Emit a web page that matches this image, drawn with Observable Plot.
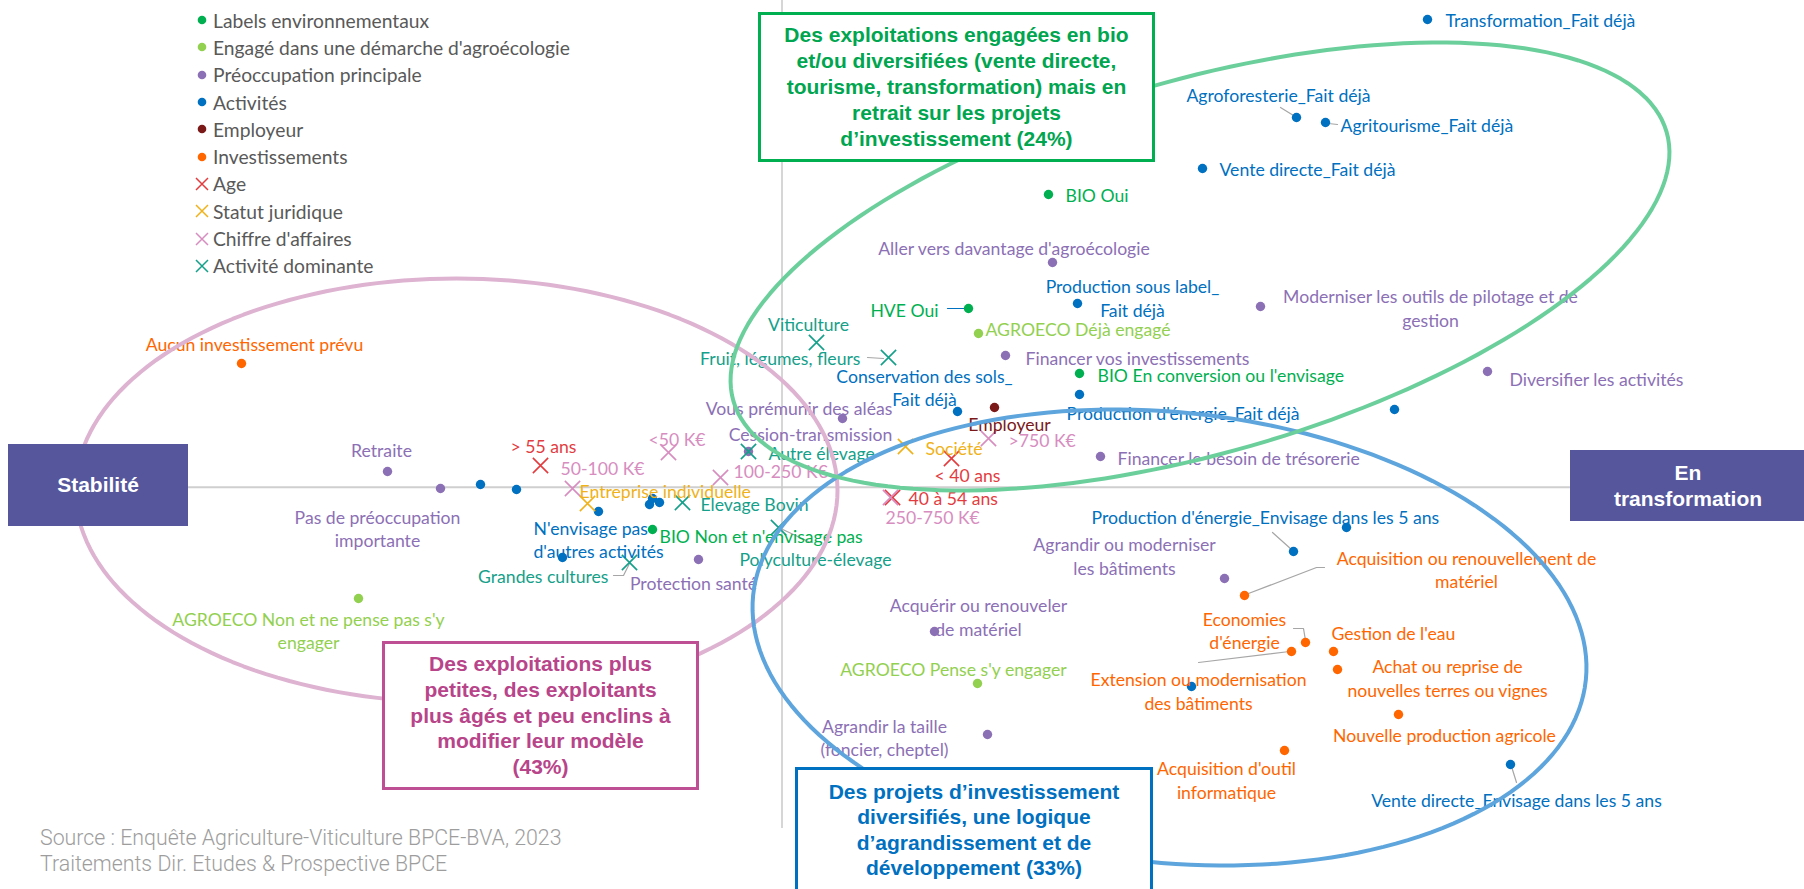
<!DOCTYPE html>
<html lang="fr">
<head>
<meta charset="utf-8">
<script src="https://cdn.jsdelivr.net/npm/d3@7"></script>
<script src="https://cdn.jsdelivr.net/npm/@observablehq/plot@0.6"></script>
<style>
html,body{margin:0;padding:0;background:#fff;}
#wrap{position:relative;width:1804px;height:889px;overflow:hidden;background:#fff;}
#chart{position:absolute;left:0;top:0;}
.box{position:absolute;box-sizing:border-box;display:flex;align-items:center;justify-content:center;text-align:center;font-family:"Liberation Sans",Arial,sans-serif;font-weight:bold;font-size:21px;background:#fff;}
#legend{position:absolute;left:195px;top:6.5px;font-family:Lato,sans-serif;color:#595959;}
#legend .row{display:flex;align-items:center;height:27.3px;white-space:nowrap;}
#legend svg{width:14px;height:14px;margin-right:4px;flex:none;}
#source{position:absolute;left:40px;top:825px;font-family:Roboto,sans-serif;font-weight:300;color:#9d9d9d;line-height:26px;white-space:nowrap;}
</style>
</head>
<body>
<div id="wrap">
  <div id="chart"></div>
  <div id="legend"></div>
  <div id="source">Source : Enquête Agriculture-Viticulture BPCE-BVA, 2023<br>Traitements Dir. Etudes &amp; Prospective BPCE</div>
  <div class="box" id="boxGreen">Des exploitations engagées en bio<br>et/ou diversifiées (vente directe,<br>tourisme, transformation) mais en<br>retrait sur les projets<br>d’investissement (24%)</div>
  <div class="box" id="boxPink">Des exploitations plus<br>petites, des exploitants<br>plus âgés et peu enclins à<br>modifier leur modèle<br>(43%)</div>
  <div class="box" id="boxBlue">Des projets d’investissement<br>diversifiés, une logique<br>d’agrandissement et de<br>développement (33%)</div>
  <div class="box" id="boxLeft">Stabilité</div>
  <div class="box" id="boxRight">En<br>transformation</div>
</div>
<script>
// ---------------- DATA (factor map coordinates) ----------------
const legendNames = ["Labels environnementaux", "Engagé dans une démarche d'agroécologie", "Préoccupation principale", "Activités", "Employeur", "Investissements", "Age", "Statut juridique", "Chiffre d'affaires", "Activité dominante"];

const labelsEnvironnementaux = [
  {label: "BIO Oui", x: 2.665, y: 2.927},
  {label: "HVE Oui", x: 1.865, y: 1.787},
  {label: "BIO En conversion ou l'envisage", x: 2.975, y: 1.137},
  {label: "BIO Non et n'envisage pas", x: -1.295, y: -0.423}
];
const agroecologie = [
  {label: "AGROECO Déjà engagé", x: 1.965, y: 1.537},
  {label: "AGROECO Non et ne pense pas s'y engager", x: -4.235, y: -1.113},
  {label: "AGROECO Pense s'y engager", x: 1.955, y: -1.963}
];
const preoccupation = [
  {label: "Aller vers davantage d'agroécologie", x: 2.705, y: 2.247},
  {label: "Moderniser les outils de pilotage et de gestion", x: 4.785, y: 1.807},
  {label: "Financer vos investissements", x: 2.235, y: 1.317},
  {label: "Diversifier les activités", x: 7.055, y: 1.157},
  {label: "Vous prémunir des aléas", x: 0.605, y: 0.687},
  {label: "Cession-transmission", x: -0.335, y: 0.357},
  {label: "Retraite", x: -3.945, y: 0.157},
  {label: "Pas de préoccupation importante", x: -3.415, y: -0.013},
  {label: "Protection santé", x: -0.835, y: -0.723},
  {label: "Financer le besoin de trésorerie", x: 3.185, y: 0.307},
  {label: "Agrandir ou moderniser les bâtiments", x: 4.425, y: -0.913},
  {label: "Acquérir ou renouveler de matériel", x: 1.525, y: -1.443},
  {label: "Agrandir la taille (foncier, cheptel)", x: 2.055, y: -2.473}
];
const activites = [
  {label: "Transformation_Fait déjà", x: 6.455, y: 4.677},
  {label: "Agroforesterie_Fait déjà", x: 5.145, y: 3.697},
  {label: "Agritourisme_Fait déjà", x: 5.435, y: 3.647},
  {label: "Vente directe_Fait déjà", x: 4.205, y: 3.187},
  {label: "Production sous label_Fait déjà", x: 2.955, y: 1.837},
  {label: "Conservation des sols_Fait déjà", x: 1.755, y: 0.757},
  {label: "Production d'énergie_Fait déjà", x: 2.975, y: 0.927},
  {label: "Production d'énergie_Envisage dans les 5 ans", x: 5.115, y: -0.643},
  {label: "Vente directe_Envisage dans les 5 ans", x: 7.285, y: -2.773},
  {label: "N'envisage pas d'autres activités", x: -1.835, y: -0.243},
  {label: null, x: 6.125, y: 0.777},
  {label: null, x: 5.645, y: -0.403},
  {label: null, x: 4.095, y: -1.993},
  {label: null, x: -3.015, y: 0.027},
  {label: null, x: -2.655, y: -0.023},
  {label: null, x: -2.195, y: -0.703},
  {label: null, x: -1.325, y: -0.173},
  {label: null, x: -1.295, y: -0.113},
  {label: null, x: -1.225, y: -0.153}
];
const employeur = [
  {label: "Employeur", x: 2.125, y: 0.797}
];
const investissements = [
  {label: "Aucun investissement prévu", x: -5.405, y: 1.237},
  {label: "Acquisition ou renouvellement de matériel", x: 4.625, y: -1.083},
  {label: "Economies d'énergie", x: 5.235, y: -1.553},
  {label: "Extension ou modernisation des bâtiments", x: 5.095, y: -1.643},
  {label: "Gestion de l'eau", x: 5.515, y: -1.643},
  {label: "Achat ou reprise de nouvelles terres ou vignes", x: 5.555, y: -1.823},
  {label: "Nouvelle production agricole", x: 6.165, y: -2.273},
  {label: "Acquisition d'outil informatique", x: 5.025, y: -2.633}
];
const age = [
  {label: "> 55 ans", x: -2.415, y: 0.217},
  {label: "< 40 ans", x: 1.695, y: 0.287},
  {label: "40 à 54 ans", x: 1.105, y: -0.103}
];
const statutJuridique = [
  {label: "Société", x: 1.235, y: 0.407},
  {label: "Entreprise individuelle", x: -1.945, y: -0.163}
];
const chiffreAffaires = [
  {label: "<50 K€", x: -1.135, y: 0.347},
  {label: "50-100 K€", x: -2.095, y: -0.013},
  {label: "100-250 K€", x: -0.615, y: 0.097},
  {label: ">750 K€", x: 2.065, y: 0.487},
  {label: "250-750 K€", x: 1.085, y: -0.103}
];
const activiteDominante = [
  {label: "Viticulture", x: 0.345, y: 1.447},
  {label: "Fruit, légumes, fleurs", x: 1.065, y: 1.297},
  {label: "Autre élevage", x: -0.335, y: 0.357},
  {label: "Elevage Bovin", x: -0.995, y: -0.153},
  {label: "Grandes cultures", x: -1.525, y: -0.753},
  {label: "Polyculture-élevage", x: -0.035, y: -0.403}
];

// ---------------- LAYOUT / STYLE (kept apart from data) ----------------
const series = [
  {name: legendNames[0], data: labelsEnvironnementaux, color: "#00B050", shape: "dot"},
  {name: legendNames[1], data: agroecologie, color: "#92D050", shape: "dot"},
  {name: legendNames[2], data: preoccupation, color: "#8C70B5", shape: "dot"},
  {name: legendNames[3], data: activites, color: "#0070C0", shape: "dot"},
  {name: legendNames[4], data: employeur, color: "#7B1818", shape: "dot"},
  {name: legendNames[5], data: investissements, color: "#FF6600", shape: "dot"},
  {name: legendNames[6], data: age, color: "#E33C3F", shape: "times"},
  {name: legendNames[7], data: statutJuridique, color: "#F0B21A", shape: "times"},
  {name: legendNames[8], data: chiffreAffaires, color: "#D78DC0", shape: "times"},
  {name: legendNames[9], data: activiteDominante, color: "#14A08A", shape: "times"}
];

// label placement: [x, y, anchor, display text]
const labelLayout = {
  "BIO Oui": [2.835, 2.927, "start"],
  "HVE Oui": [1.565, 1.777, "end"],
  "BIO En conversion ou l'envisage": [3.155, 1.127, "start"],
  "BIO Non et n'envisage pas": [-1.225, -0.483, "start"],
  "AGROECO Déjà engagé": [2.035, 1.587, "start"],
  "AGROECO Non et ne pense pas s'y engager": [-4.735, -1.428, "middle", "AGROECO Non et ne pense pas s'y\nengager"],
  "AGROECO Pense s'y engager": [1.715, -1.813, "middle"],
  "Aller vers davantage d'agroécologie": [2.32, 2.397, "middle"],
  "Moderniser les outils de pilotage et de gestion": [6.485, 1.797, "middle", "Moderniser les outils de pilotage et de\ngestion"],
  "Financer vos investissements": [2.435, 1.297, "start"],
  "Diversifier les activités": [7.275, 1.087, "start"],
  "Vous prémunir des aléas": [0.17, 0.797, "middle"],
  "Cession-transmission": [0.285, 0.537, "middle"],
  "Retraite": [-4.005, 0.377, "middle"],
  "Pas de préoccupation importante": [-4.045, -0.408, "middle", "Pas de préoccupation\nimportante"],
  "Protection santé": [-0.885, -0.953, "middle"],
  "Financer le besoin de trésorerie": [3.355, 0.297, "start"],
  "Agrandir ou moderniser les bâtiments": [3.425, -0.683, "middle", "Agrandir ou moderniser\nles bâtiments"],
  "Acquérir ou renouveler de matériel": [1.965, -1.293, "middle", "Acquérir ou renouveler\nde matériel"],
  "Agrandir la taille (foncier, cheptel)": [1.025, -2.498, "middle", "Agrandir la taille\n(foncier, cheptel)"],
  "Transformation_Fait déjà": [6.635, 4.677, "start"],
  "Agroforesterie_Fait déjà": [4.965, 3.927, "middle"],
  "Agritourisme_Fait déjà": [5.585, 3.627, "start"],
  "Vente directe_Fait déjà": [4.375, 3.187, "start"],
  "Production sous label_Fait déjà": [3.505, 1.897, "middle", "Production sous label_\nFait déjà"],
  "Conservation des sols_Fait déjà": [1.425, 1.002, "middle", "Conservation des sols_\nFait déjà"],
  "Production d'énergie_Fait déjà": [2.845, 0.747, "start"],
  "Production d'énergie_Envisage dans les 5 ans": [3.095, -0.293, "start"],
  "Vente directe_Envisage dans les 5 ans": [7.345, -3.123, "middle"],
  "N'envisage pas d'autres activités": [-2.485, -0.518, "start", "N'envisage pas\nd'autres activités"],
  "Employeur": [2.275, 0.637, "middle"],
  "Aucun investissement prévu": [-5.275, 1.437, "middle"],
  "Acquisition ou renouvellement de matériel": [6.845, -0.818, "middle", "Acquisition ou renouvellement de\nmatériel"],
  "Economies d'énergie": [4.625, -1.428, "middle", "Economies\nd'énergie"],
  "Extension ou modernisation des bâtiments": [4.165, -2.033, "middle", "Extension ou modernisation\ndes bâtiments"],
  "Gestion de l'eau": [5.495, -1.453, "start"],
  "Achat ou reprise de nouvelles terres ou vignes": [6.655, -1.903, "middle", "Achat ou reprise de\nnouvelles terres ou vignes"],
  "Nouvelle production agricole": [6.625, -2.473, "middle"],
  "Acquisition d'outil informatique": [4.445, -2.923, "middle", "Acquisition d'outil\ninformatique"],
  "> 55 ans": [-2.385, 0.417, "middle"],
  "< 40 ans": [1.855, 0.127, "middle"],
  "40 à 54 ans": [1.265, -0.103, "start"],
  "Société": [1.435, 0.397, "start"],
  "Entreprise individuelle": [-2.025, -0.033, "start"],
  "<50 K€": [-1.335, 0.487, "start"],
  "50-100 K€": [-1.795, 0.197, "middle"],
  "100-250 K€": [-0.485, 0.167, "start"],
  ">750 K€": [2.265, 0.477, "start"],
  "250-750 K€": [1.035, -0.293, "start"],
  "Viticulture": [0.265, 1.637, "middle"],
  "Fruit, légumes, fleurs": [0.785, 1.297, "end"],
  "Autre élevage": [-0.135, 0.347, "start"],
  "Elevage Bovin": [-0.815, -0.163, "start"],
  "Grandes cultures": [-1.735, -0.883, "end"],
  "Polyculture-élevage": [0.335, -0.713, "middle"]
};

// leader lines (label -> point)
const leaders = [
  {id: "hve", color: "#0070C0", pts: [[1.655, 1.787], [1.835, 1.787]]},
  {id: "agrof", color: "#A6A6A6", pts: [[4.985, 3.797], [5.115, 3.717]]},
  {id: "agrit", color: "#A6A6A6", pts: [[5.465, 3.637], [5.555, 3.627]]},
  {id: "prodE", color: "#A6A6A6", pts: [[4.905, -0.453], [5.095, -0.623]]},
  {id: "vdE", color: "#A6A6A6", pts: [[7.295, -2.793], [7.345, -2.953]]},
  {id: "acqM", color: "#A6A6A6", pts: [[4.665, -1.063], [5.345, -0.803], [5.425, -0.803]]},
  {id: "eco", color: "#A6A6A6", pts: [[5.115, -1.413], [5.215, -1.413], [5.235, -1.533]]},
  {id: "ext", color: "#A6A6A6", pts: [[4.165, -1.753], [5.075, -1.643]]},
  {id: "fruit", color: "#A6A6A6", pts: [[0.855, 1.297], [1.015, 1.287]]},
  {id: "gc", color: "#A6A6A6", pts: [[-1.685, -0.883], [-1.585, -0.883], [-1.525, -0.763]]},
  {id: "poly", color: "#A6A6A6", pts: [[-0.035, -0.403], [0.285, -0.553]]}
];

// cluster ellipses: centre, semi-axes, rotation (deg)
const clusters = [
  {id: "pink", color: "#DDB3D1", cx: -3.255, cy: -0.033, a: 3.81, b: 2.12, rot: 0},
  {id: "blue", color: "#5DA5DC", cx: 3.875, cy: -1.503, a: 4.185, b: 2.252, rot: -5.8},
  {id: "green", color: "#6BCF9C", cx: 4.18, cy: 2.207, a: 4.856, b: 1.864, rot: 16.08}
];

// ---------------- FONT SIZING ----------------
const ctx = document.createElement("canvas").getContext("2d");
function fit(font, text, target) { ctx.font = font; const w = ctx.measureText(text).width; return w > 0 ? 100 * target / w : 19; }
const fsLabel = (fit("100px Lato", "Fruit, légumes, fleurs", 167) + fit("100px Lato", "Conservation des sols_", 164) + fit("100px Lato", "Vous prémunir des aléas", 193)) / 3;
const fsLegend = fit("100px Lato", "Engagé dans une démarche d'agroécologie", 357);
const fsSource = fit("300 100px Roboto", "Source : Enquête Agriculture-Viticulture BPCE-BVA, 2023", 522);
const lh = 23.5 / fsLabel;

// ---------------- BUILD MARKS ----------------
function ellipsePts(c) {
  const phi = c.rot * Math.PI / 180;
  return d3.range(0, 361, 2).map(t => {
    const r = t * Math.PI / 180;
    return {id: c.id,
      x: c.cx + c.a * Math.cos(r) * Math.cos(phi) - c.b * Math.sin(r) * Math.sin(phi),
      y: c.cy + c.a * Math.cos(r) * Math.sin(phi) + c.b * Math.sin(r) * Math.cos(phi)};
  });
}

const marks = [];
// axes through origin
marks.push(Plot.ruleY([0], {x1: -5.935, x2: 7.885, stroke: "#CFCFCF", strokeWidth: 2}));
marks.push(Plot.ruleX([0], {y1: -3.413, y2: 4.867, stroke: "#C8C8C8", strokeWidth: 1.5}));

// leader lines
for (const l of leaders) {
  marks.push(Plot.line(l.pts, {x: d => d[0], y: d => d[1], stroke: l.color, strokeWidth: 1.2}));
}

// points
for (const s of series) {
  if (s.shape === "dot") {
    marks.push(Plot.dot(s.data, {x: "x", y: "y", r: 4.7, fill: s.color}));
  } else {
    marks.push(Plot.dot(s.data, {x: "x", y: "y", r: 7, symbol: "times", stroke: s.color, strokeWidth: 1.6}));
  }
}

// labels
for (const s of series) {
  const rows = s.data.filter(d => d.label && labelLayout[d.label]).map(d => {
    const L = labelLayout[d.label];
    return {lx: L[0], ly: L[1], anchor: L[2], text: L[3] || d.label};
  });
  for (const anchor of ["start", "middle", "end"]) {
    const sub = rows.filter(r => r.anchor === anchor);
    if (!sub.length) continue;
    const col = s.name === "Employeur" ? "#7B1818" : s.color;
    marks.push(Plot.text(sub, {x: "lx", y: "ly", text: "text", textAnchor: anchor, fill: col, fontSize: fsLabel, lineHeight: lh}));
  }
}

// cluster ellipses (drawn over labels, as in the original)
for (const c of clusters) {
  marks.push(Plot.line(ellipsePts(c), {x: "x", y: "y", stroke: c.color, strokeWidth: 4, curve: "linear-closed"}));
}

const chart = Plot.plot({
  width: 1804, height: 889, margin: 0,
  x: {domain: [-7.815, 10.225], axis: null},
  y: {domain: [-4.023, 4.867], axis: null},
  style: {fontFamily: "Lato, sans-serif", background: "transparent", overflow: "visible"},
  marks
});
document.getElementById("chart").appendChild(chart);

// ---------------- LEGEND ----------------
const legend = document.getElementById("legend");
legend.style.fontSize = fsLegend + "px";
for (const s of series) {
  const row = document.createElement("div");
  row.className = "row";
  const mk = s.shape === "dot"
    ? `<svg viewBox="0 0 14 14"><circle cx="7" cy="7" r="4.3" fill="${s.color}"/></svg>`
    : `<svg viewBox="0 0 14 14"><path d="M1,1L13,13M13,1L1,13" stroke="${s.color}" stroke-width="1.5" fill="none"/></svg>`;
  row.innerHTML = mk + `<span>${s.name}</span>`;
  legend.appendChild(row);
}
document.getElementById("source").style.fontSize = fsSource + "px";

// ---------------- ANNOTATION BOXES ----------------
function place(id, o) { Object.assign(document.getElementById(id).style, o); }
place("boxGreen", {left: "758px", top: "12px", width: "397px", height: "150px", border: "3px solid #00B050", color: "#00A550", lineHeight: "26px"});
place("boxPink", {left: "382px", top: "641px", width: "317px", height: "149px", border: "3px solid #BF4F94", color: "#B8448A", lineHeight: "25.7px"});
place("boxBlue", {left: "795px", top: "767px", width: "358px", height: "140px", border: "3px solid #0070C0", color: "#0070C0", lineHeight: "25.3px", alignItems: "flex-start", paddingTop: "9px"});
place("boxLeft", {left: "8px", top: "444px", width: "180px", height: "82px", background: "#55569C", color: "#fff", lineHeight: "26px"});
place("boxRight", {left: "1570px", top: "450px", width: "236px", height: "71px", background: "#55569C", color: "#fff", lineHeight: "26px"});
</script>
</body>
</html>
